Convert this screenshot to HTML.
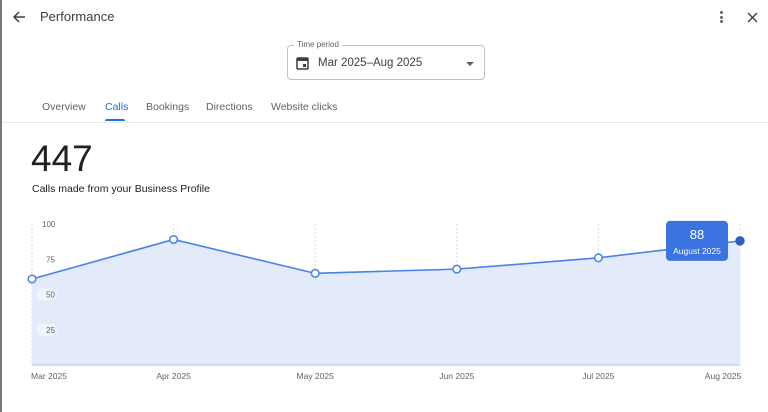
<!DOCTYPE html>
<html><head><meta charset="utf-8"><style>
*{margin:0;padding:0;box-sizing:border-box}
body{width:768px;height:412px;overflow:hidden;background:#fff;font-family:"Liberation Sans",sans-serif;position:relative;color:#202124}
.abs{position:absolute}
.tab{position:absolute;top:101px;font-size:10.5px;color:#5f6368}
</style></head><body>
<div class="abs" style="left:0;top:0;width:2px;height:412px;background:#777"></div>
<svg class="abs" style="left:11px;top:9px" width="16" height="16" viewBox="0 0 16 16"><path d="M14 8H3M8 3L3 8l5 5" stroke="#3c4043" stroke-width="1.5" fill="none"/></svg>
<div class="abs" style="left:40px;top:9px;font-size:13px;color:#3c4043">Performance</div>
<div class="abs" style="left:720px;top:11px;width:4px">
<div style="width:3px;height:3px;border-radius:2px;background:#5f6368;margin-bottom:1.5px"></div><div style="width:3px;height:3px;border-radius:2px;background:#5f6368;margin-bottom:1.5px"></div><div style="width:3px;height:3px;border-radius:2px;background:#5f6368"></div></div>
<svg class="abs" style="left:747px;top:12px" width="11" height="11"><path d="M1 1L10 10M10 1L1 10" stroke="#3c4043" stroke-width="1.4"/></svg>
<div class="abs" style="left:287px;top:45px;width:198px;height:35px;border:1px solid #bdc1c6;border-radius:4px">
<div class="abs" style="left:6px;top:-6px;background:#fff;padding:0 3px;font-size:8px;color:#5f6368">Time period</div>
<svg class="abs" style="left:8px;top:10px" width="13" height="14"><rect x="1" y="2" width="11" height="11" rx="1" fill="none" stroke="#3c4043" stroke-width="1.5"/><rect x="1" y="2" width="11" height="3" fill="#3c4043"/><rect x="7" y="8" width="3" height="3" fill="#3c4043"/></svg>
<div class="abs" style="left:30px;top:11px;font-size:11.5px;color:#3c4043">Mar 2025–Aug 2025</div>
<div class="abs" style="left:178px;top:16px;width:0;height:0;border-left:4px solid transparent;border-right:4px solid transparent;border-top:4px solid #5f6368"></div>
</div>
<div class="tab" style="left:42px">Overview</div>
<div class="tab" style="left:105px;color:#1a73e8">Calls</div>
<div class="abs" style="left:105px;top:119px;width:20px;height:2px;background:#1a73e8;border-radius:2px 2px 0 0"></div>
<div class="tab" style="left:146px">Bookings</div>
<div class="tab" style="left:206px">Directions</div>
<div class="tab" style="left:271px">Website clicks</div>
<div class="abs" style="left:2px;top:122px;width:766px;height:1px;background:#e8eaed"></div>
<div class="abs" style="left:31px;top:138px;font-size:37px;color:#202124">447</div>
<div class="abs" style="left:32px;top:183px;font-size:10.5px;color:#202124">Calls made from your Business Profile</div>
<svg class="abs" id="chart" style="left:0;top:0" width="768" height="412"></svg>
<script>
const months=["Mar 2025","Apr 2025","May 2025","Jun 2025","Jul 2025","Aug 2025"];
const fullMonths=["March 2025","April 2025","May 2025","June 2025","July 2025","August 2025"];
const calls=[61,89,65,68,76,88];
const yTicks=[25,50,75,100];
const NS="http://www.w3.org/2000/svg";
const svg=document.getElementById('chart');
const x0=32,x1=740,yb=365,yScale=1.41;
const X=i=>x0+i*(x1-x0)/(months.length-1);
const Y=v=>yb-v*yScale;
function mk(t,a){const e=document.createElementNS(NS,t);for(const k in a)e.setAttribute(k,a[k]);svg.appendChild(e);return e;}
months.forEach((m,i)=>{
 const g=mk('line',{x1:X(i),x2:X(i),y1:Y(100),y2:yb,stroke:'#dadce0','stroke-dasharray':'2,2','stroke-width':1});
 
 
 const t=mk('text',{x:X(i)+(i==0?17:i==months.length-1?-17:0),y:yb+14,'font-size':8.5,fill:'#5f6368','text-anchor':'middle','font-family':'Liberation Sans, sans-serif'});
 t.textContent=m;
 
 
});
let d='M'+X(0)+','+yb;calls.forEach((v,i)=>d+=' L'+X(i)+','+Y(v));d+=' L'+X(calls.length-1)+','+yb+'Z';
const area=mk('path',{d:d,fill:'#e3ebfb'});


mk('line',{x1:x0,x2:x1,y1:yb,y2:yb,stroke:'#c8d3ee','stroke-width':1.5});
yTicks.forEach(v=>{
 if(v<=50){mk('rect',{x:36,y:Y(v)-6,width:21,height:12,rx:6,fill:'#f1f4fb'});}
 const t=mk('text',{x:v==100?42:46,y:Y(v)+3,'font-size':8,fill:'#5f6368','text-anchor':'start','font-family':'Liberation Sans, sans-serif'});
 t.textContent=v;
 
 
});
const line=mk('polyline',{points:calls.map((v,i)=>X(i)+','+Y(v)).join(' '),fill:'none',stroke:'#4a80ea','stroke-width':1.6});


calls.forEach((v,i)=>{
 const last=i==calls.length-1;
 const c=mk('circle',{cx:X(i),cy:Y(v),r:last?4:3.8,fill:last?'#2f5fc4':'#fff',stroke:last?'#2f5fc4':'#4a80ea','stroke-width':1.5});
 
 
});
const li=calls.length-1,tx=X(li)-74,ty=Y(calls[li])-20;
const tr=mk('rect',{x:tx,y:ty,width:62,height:40,rx:4,fill:'#3b73e0'});


const tv=mk('text',{x:tx+31,y:ty+18,'font-size':13,fill:'#fff','text-anchor':'middle','font-family':'Liberation Sans, sans-serif'});tv.textContent=calls[li];


const tl=mk('text',{x:tx+31,y:ty+33,'font-size':8.5,fill:'#fff','text-anchor':'middle','font-family':'Liberation Sans, sans-serif'});tl.textContent=fullMonths[li];


</script>
</body></html>
